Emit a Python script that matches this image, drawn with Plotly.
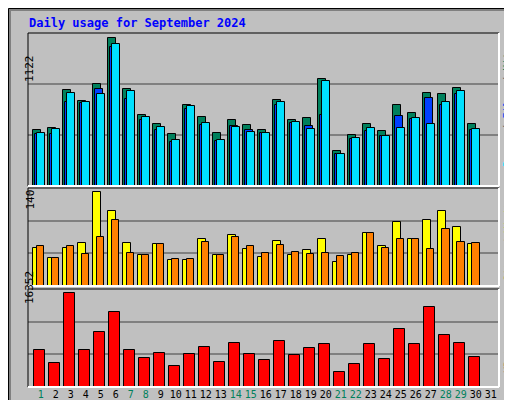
import plotly.graph_objects as go

days = list(range(1, 31))
hits = [421, 439, 728, 642, 772, 1122, 736, 536, 467, 391, 612, 520, 398, 497, 459,
        421, 652, 497, 515, 810, 264, 383, 467, 414, 612, 551, 703, 695, 741, 467]
files = [398, 429, 703, 635, 695, 1076, 718, 520, 444, 345, 604, 475, 345, 444, 406,
         398, 635, 482, 429, 794, 239, 360, 437, 376, 437, 513, 467, 635, 718, 429]
pages = [393, 393, 635, 627, 736, 1053, 660, 497, 421, 330, 584, 459, 338, 452, 421,
         398, 612, 475, 452, 536, 239, 353, 414, 376, 528, 505, 665, 612, 695, 421]
visits = [57, 41, 57, 64, 140, 111, 64, 46, 63, 38, 38, 70, 46, 76, 55,
          43, 67, 46, 54, 70, 35, 46, 78, 60, 95, 70, 98, 111, 87, 63]
sites = [60, 41, 60, 48, 73, 98, 49, 46, 63, 40, 40, 66, 46, 73, 60,
         49, 61, 51, 48, 49, 44, 49, 79, 57, 70, 70, 55, 85, 66, 64]
kbytes = [6505, 4178, 16352, 6505, 9549, 13130, 6505, 5073, 5968, 3640, 5789, 7042, 4357, 7758, 5789,
          4715, 8116, 5610, 6863, 7579, 2566, 3999, 7579, 4894, 10086, 7579, 14025, 9012, 7758, 5252]
weekend = [1, 7, 8, 14, 15, 21, 22, 28, 29]
tick_days = list(range(1, 32))

MONO = "DejaVu Sans Mono"
W, H = 512, 400
L, R, T, B = 20, 21, 25, 21


def px(x):
    return (x - L) / (W - L - R)


def py(y):
    return (H - B - y) / (H - T - B)


fig = go.Figure()
line = dict(color="black", width=1)


def bar(y, color, offset, width, yaxis, xaxis):
    fig.add_trace(go.Bar(x=days, y=y, offset=offset, width=width, marker_color=color,
                         marker_line=line, xaxis=xaxis, yaxis=yaxis, hoverinfo="y"))


bar(hits, "#00805C", -0.49, 0.49, "y", "x")
bar(pages, "#0040FF", -0.36, 0.49, "y", "x")
bar(files, "#00E0FF", -0.22, 0.49, "y", "x")
bar(visits, "#FFFF00", -0.49, 0.49, "y2", "x2")
bar(sites, "#FF8000", -0.27, 0.52, "y2", "x2")
bar(kbytes, "#FF0000", -0.43, 0.69, "y3", "x3")

xr = [0.153, 31.55]
tops = [1156, 145.5, 17121]
domains = [[py(178), 1], [py(278), py(180)], [0, py(281)]]
ticktext = [f'<span style="color:{"#00805C" if d in weekend else "black"}">{d}</span>' for d in tick_days]

for i, (top, dom) in enumerate(zip(tops, domains)):
    s = "" if i == 0 else str(i + 1)
    fig.layout["xaxis" + s] = dict(range=xr, domain=[0, 1], anchor="y" + s,
                                   showgrid=False, zeroline=False, tickangle=0, automargin=False,
                                   showticklabels=(i == 2), tickvals=tick_days, ticktext=ticktext,
                                   ticks="", ticklen=0, tickfont=dict(family=MONO, size=10))
    fig.layout["yaxis" + s] = dict(range=[0, top], domain=dom, anchor="x" + s, automargin=False,
                                   tickvals=[top / 3, 2 * top / 3], showticklabels=False,
                                   gridcolor="#808080", gridwidth=1.5, zeroline=False)
    y0, y1 = dom
    fig.add_shape(type="line", xref="paper", yref="paper", x0=0, x1=1, y0=y1, y1=y1, line=line)
    fig.add_shape(type="line", xref="paper", yref="paper", x0=0, x1=0, y0=y0, y1=y1, line=line)
    fig.add_shape(type="line", xref="paper", yref="paper", x0=0, x1=1, y0=y0, y1=y0,
                  line=dict(color="white", width=2))
    fig.add_shape(type="line", xref="paper", yref="paper", x0=1, x1=1, y0=y0, y1=y1,
                  line=dict(color="white", width=2))

# max labels
for lab, y in [("1122", 45), ("140", 192), ("16352", 298)]:
    fig.add_annotation(text=lab, xref="paper", yref="paper", x=px(13), y=py(y), textangle=-90,
                       showarrow=False, font=dict(family=MONO, size=11, color="black"))

# right side legends
slash = '<span style="color:#606060"> / </span>'
legends = [
    ('<span style="color:#00E0FF">Pages</span>' + slash + '<span style="color:#0040FF">Files</span>'
     + slash + '<span style="color:#00805C">Hits</span>', 99),
    ('<span style="color:#FF8000">Sites</span>' + slash + '<span style="color:#FFFF00">Visits</span>', 231),
    ('<span style="color:#FF0000">KBytes</span>', 347),
]
for txt, y in legends:
    fig.add_annotation(text=txt, xref="paper", yref="paper", x=px(500), y=py(y), textangle=-90,
                       xanchor="center", yanchor="middle",
                       showarrow=False, font=dict(family=MONO, size=10))

fig.add_annotation(text="<b>Daily usage for September 2024</b>", xref="paper", yref="paper",
                   x=px(19), y=py(15), xanchor="left", yanchor="middle", showarrow=False,
                   font=dict(family=MONO, size=12, color="#0000FF"))

# outer frame
fig.add_shape(type="rect", xref="paper", yref="paper", x0=px(0.5), x1=px(511.5), y0=py(399.5), y1=py(0.5),
              line=dict(color="black", width=1), layer="below")
fig.add_shape(type="rect", xref="paper", yref="paper", x0=px(2), x1=px(509), y0=py(397), y1=py(2),
              line=dict(color="#808080", width=2), layer="below")

fig.update_layout(width=W, height=H, margin=dict(l=L, r=R, t=T, b=B, autoexpand=False),
                  paper_bgcolor="#C0C0C0", plot_bgcolor="#C0C0C0",
                  barmode="overlay", showlegend=False, bargap=0)
fig.write_html("out.html")
